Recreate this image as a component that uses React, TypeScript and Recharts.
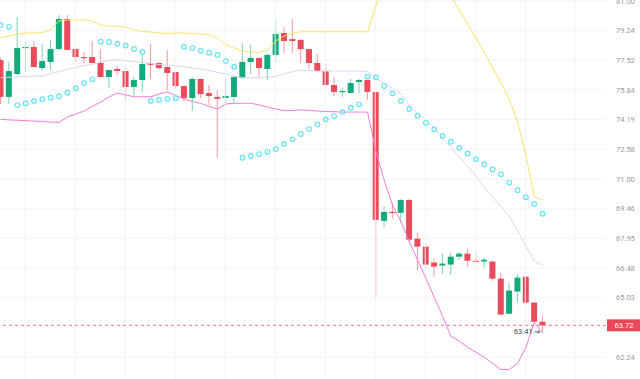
import React from 'react';
import { ComposedChart, Bar, Line, XAxis, YAxis, CartesianGrid, ReferenceLine, ReferenceDot } from 'recharts';

const opens = [77.54, 75.45, 76.74, 78.23, 78.29, 77.08, 77.43, 78.17, 79.93, 78.17, 77.71, 77.71, 77.37, 76.57, 77.03, 76.91, 76.01, 76.40, 77.37, 77.37, 77.14, 76.85, 76.06, 75.39, 76.46, 75.67, 75.45, 75.39, 75.45, 76.51, 77.43, 77.66, 77.03, 77.83, 79.10, 78.75, 78.70, 78.17, 77.37, 76.91, 76.12, 75.73, 75.67, 76.29, 76.40, 75.73, 68.84, 69.30, 69.25, 69.91, 67.94, 67.54, 66.75, 66.60, 66.65, 67.04, 67.19, 66.84, 66.80, 66.80, 65.96, 64.27, 65.33, 66.05, 64.80, 63.89];
const closes = [75.45, 76.91, 78.23, 78.29, 77.14, 77.48, 78.17, 79.93, 78.12, 77.71, 77.66, 77.37, 76.57, 76.97, 76.91, 76.01, 76.40, 77.31, 77.26, 77.08, 76.80, 76.06, 75.39, 76.46, 75.61, 75.50, 75.34, 75.50, 76.57, 77.43, 77.66, 77.08, 77.83, 79.05, 78.64, 78.64, 78.17, 77.37, 76.91, 76.12, 75.73, 75.78, 76.23, 76.40, 75.73, 68.89, 69.30, 69.25, 69.91, 67.89, 67.54, 66.65, 66.55, 66.70, 67.04, 67.19, 66.84, 66.80, 66.89, 65.96, 64.23, 65.38, 66.01, 64.80, 63.89, 63.72];
const highs = [77.66, 77.43, 80.05, 78.58, 78.64, 78.46, 78.70, 80.17, 80.17, 78.29, 78.00, 78.64, 78.17, 76.99, 77.20, 77.14, 76.57, 77.83, 78.46, 77.40, 78.12, 76.87, 76.12, 76.57, 76.48, 76.12, 75.84, 76.51, 76.63, 78.52, 78.41, 77.68, 77.94, 79.93, 79.46, 79.93, 78.72, 78.19, 77.89, 77.31, 76.57, 75.95, 76.46, 76.46, 76.42, 75.75, 69.60, 69.76, 69.96, 69.96, 68.24, 67.69, 66.94, 67.19, 67.24, 67.29, 67.44, 67.29, 66.99, 66.82, 66.25, 65.76, 66.15, 66.10, 64.82, 64.18];
const lows = [75.06, 75.06, 76.68, 76.85, 77.12, 76.97, 76.97, 78.12, 78.10, 77.43, 77.37, 77.35, 76.55, 75.95, 76.68, 75.22, 75.45, 75.73, 76.46, 76.97, 75.84, 75.89, 75.22, 74.67, 75.39, 75.00, 72.12, 75.11, 75.11, 76.46, 76.74, 76.57, 76.40, 77.43, 77.94, 77.94, 77.37, 77.03, 76.85, 76.01, 75.50, 75.45, 75.65, 75.67, 75.28, 65.02, 68.54, 68.94, 68.74, 67.74, 66.35, 66.50, 66.05, 66.20, 66.15, 66.89, 66.55, 66.78, 66.50, 65.86, 64.21, 64.25, 64.80, 64.78, 63.87, 63.41];

const upperBand = [78.83, 78.93, 79.05, 79.10, 79.10, 79.13, 79.31, 79.81, 79.87, 79.87, 79.87, 79.81, 79.57, 79.51, 79.49, 79.46, 79.28, 79.19, 79.16, 79.10, 79.09, 79.10, 79.10, 79.07, 79.05, 78.99, 78.81, 78.41, 78.23, 78.06, 78.00, 77.97, 78.12, 78.64, 78.93, 79.10, 79.18, 79.18, 79.18, 79.18, 79.18, 79.18, 79.18, 79.18, 79.18, 80.70, 82.27, 82.88, 83.19, 83.50, 83.50, 83.19, 82.75, 82.14, 81.30, 80.47, 79.63, 78.81, 78.00, 77.08, 76.23, 75.34, 74.06, 72.27, 70.06, 69.93];
const middleBand = [76.53, 76.56, 76.58, 76.60, 76.62, 76.63, 76.77, 76.88, 77.00, 77.11, 77.23, 77.28, 77.43, 77.51, 77.57, 77.51, 77.44, 77.39, 77.35, 77.28, 77.25, 77.20, 77.16, 77.09, 77.03, 76.94, 76.83, 76.74, 76.63, 76.54, 76.53, 76.53, 76.56, 76.60, 76.74, 76.88, 76.97, 76.94, 76.91, 76.91, 76.91, 76.91, 76.91, 76.91, 76.88, 76.49, 76.23, 75.95, 75.61, 75.00, 74.56, 74.17, 73.73, 73.19, 72.70, 72.17, 71.69, 71.15, 70.58, 70.06, 69.59, 69.08, 68.32, 67.56, 66.82, 66.62];
const lowerBand = [74.21, 74.18, 74.16, 74.14, 74.11, 74.09, 74.06, 74.04, 74.34, 74.50, 74.67, 74.92, 75.17, 75.45, 75.67, 75.56, 75.46, 75.46, 75.46, 75.61, 75.74, 75.53, 75.34, 75.20, 75.09, 74.92, 74.78, 75.06, 75.09, 75.10, 75.10, 75.00, 74.89, 74.78, 74.69, 74.70, 74.73, 74.70, 74.67, 74.64, 74.63, 74.61, 74.61, 74.61, 74.61, 72.49, 70.94, 69.65, 68.81, 67.81, 66.87, 65.98, 65.05, 64.15, 63.21, 62.98, 62.70, 62.46, 62.23, 61.95, 61.67, 61.67, 61.95, 62.70, 63.87, 63.35];
const sarValues = [79.57, 79.47, 75.00, 75.10, 75.23, 75.32, 75.41, 75.49, 75.69, 75.93, 76.22, 76.44, 78.60, 78.58, 78.48, 78.37, 78.18, 78.00, 75.23, 75.28, 75.34, 75.38, 78.31, 78.23, 78.08, 77.96, 77.83, 77.48, 77.16, 72.13, 72.22, 72.33, 72.45, 72.59, 72.87, 73.12, 73.41, 73.68, 73.93, 74.21, 74.39, 74.61, 74.85, 75.04, 76.59, 76.55, 76.06, 75.65, 75.23, 74.78, 74.41, 74.02, 73.66, 73.30, 72.99, 72.66, 72.36, 72.06, 71.78, 71.51, 71.25, 70.82, 70.42, 70.06, 69.70, 69.21];

const priceTicks = [81.0, 79.24, 77.52, 75.84, 74.19, 72.58, 71.0, 69.46, 67.95, 66.48, 65.03, 62.24];
const gridX = [2.92, 8.92, 14.92, 20.92, 26.92, 32.92, 38.92, 44.92, 50.92, 56.92, 62.92, 68.92];
const lastPrice = 63.72;
const lowMark = 63.41;
const lowMarkIndex = 65;

const data = opens.map((o, i) => ({
  i,
  open: o,
  close: closes[i],
  high: highs[i],
  low: lows[i],
  upper: upperBand[i],
  middle: middleBand[i],
  lower: lowerBand[i],
  sar: sarValues[i],
}));

const RED = '#ea4b5a';
const RED_WICK = '#f29aa3';
const GREEN = '#14ab7c';
const GREEN_WICK = '#7dd2b2';
const CYAN = '#66e4f4';
const FONT = 'Roboto, "Noto Sans", Arial, sans-serif';

const Candle = (props: any) => {
  const { x, y, width, height, payload } = props;
  if (x == null || y == null || !payload) return null;
  const top = Math.min(y, y + height);
  const bottom = Math.max(y, y + height);
  const { open, close, high, low } = payload;
  const lh = Math.log(high);
  const ll = Math.log(low);
  const span = lh - ll || 1;
  const py = (v: number) => top + ((bottom - top) * (lh - Math.log(v))) / span;
  const up = close >= open;
  const cx = x + width / 2;
  const yo = py(open);
  const yc = py(close);
  const bt = Math.min(yo, yc);
  const bh = Math.max(Math.abs(yc - yo), 1.2);
  return (
    <g>
      <line x1={cx} x2={cx} y1={top} y2={bottom} stroke={up ? GREEN_WICK : RED_WICK} strokeWidth={1} />
      <rect x={x} y={bt} width={width} height={bh} fill={up ? GREEN : RED} />
    </g>
  );
};

const PriceLabel = (props: any) => {
  const vb = props.viewBox || {};
  const xr = vb.x + vb.width;
  const yy = vb.y;
  return (
    <g>
      <rect x={xr + 1} y={yy - 6} width={34} height={12} fill="#e84857" />
      <text x={xr + 18} y={yy} textAnchor="middle" dominantBaseline="central" fill="#fff" fontSize={7.5} fontFamily={FONT}>
        {lastPrice.toFixed(2)}
      </text>
    </g>
  );
};

const LowLabel = (props: any) => {
  const vb = props.viewBox || {};
  const cx = vb.x + (vb.width || 0) / 2;
  const cy = vb.y + (vb.height || 0) / 2;
  return (
    <g>
      <text x={cx - 10} y={cy} textAnchor="end" dominantBaseline="central" fill="#3a3f4a" fontSize={7.5} fontFamily={FONT}>
        {lowMark.toFixed(2)}
      </text>
      <path d={`M${cx - 8},${cy} L${cx - 3},${cy} M${cx - 5},${cy - 1.5} L${cx - 3},${cy} L${cx - 5},${cy + 1.5}`} stroke="#3a3f4a" strokeWidth={0.8} fill="none" />
    </g>
  );
};

export default function App() {
  return (
    <div style={{ position: 'absolute', left: 0, top: 0, width: 640, height: 379, background: '#fff' }}>
      <ComposedChart width={640} height={379} data={data} margin={{ top: 0, right: 0, bottom: 0, left: 0 }} style={{ fontFamily: FONT }}>
        <CartesianGrid vertical={false} stroke="#f3f4f6" strokeWidth={1} />
        {gridX.map((gx) => (
          <ReferenceLine key={gx} x={gx} stroke="#f3f4f6" strokeWidth={1} />
        ))}
        <XAxis dataKey="i" type="number" domain={[-0.08, 72.6]} allowDataOverflow hide />
        <YAxis
          orientation="right"
          width={34}
          scale="log"
          type="number"
          domain={[61.24, 81.06]}
          allowDataOverflow
          ticks={priceTicks}
          tickFormatter={(v: number) => v.toFixed(2)}
          axisLine={false}
          tickLine={false}
          tickMargin={4}
          tick={{ fill: '#9a9a9a', fontSize: 7.5, fontFamily: FONT }}
          interval={0}
        />
        <Line dataKey="upper" stroke="#f6e56a" strokeWidth={1} dot={false} activeDot={false} isAnimationActive={false} />
        <Line dataKey="middle" stroke="#d8d8ee" strokeWidth={1} dot={false} activeDot={false} isAnimationActive={false} />
        <Line dataKey="lower" stroke="#f07ed8" strokeWidth={1} dot={false} activeDot={false} isAnimationActive={false} />
        <Bar dataKey={(d: any) => [d.low, d.high]} barSize={6} shape={<Candle />} isAnimationActive={false} />
        <Line
          dataKey="sar"
          stroke="none"
          dot={{ r: 2.3, stroke: CYAN, strokeWidth: 1.2, fill: 'none' }}
          activeDot={false}
          isAnimationActive={false}
        />
        <ReferenceLine y={lastPrice} stroke="#f0707a" strokeDasharray="3 3" label={<PriceLabel />} />
        <ReferenceDot x={lowMarkIndex} y={lowMark} r={0} stroke="none" fill="none" label={<LowLabel />} />
      </ComposedChart>
    </div>
  );
}
